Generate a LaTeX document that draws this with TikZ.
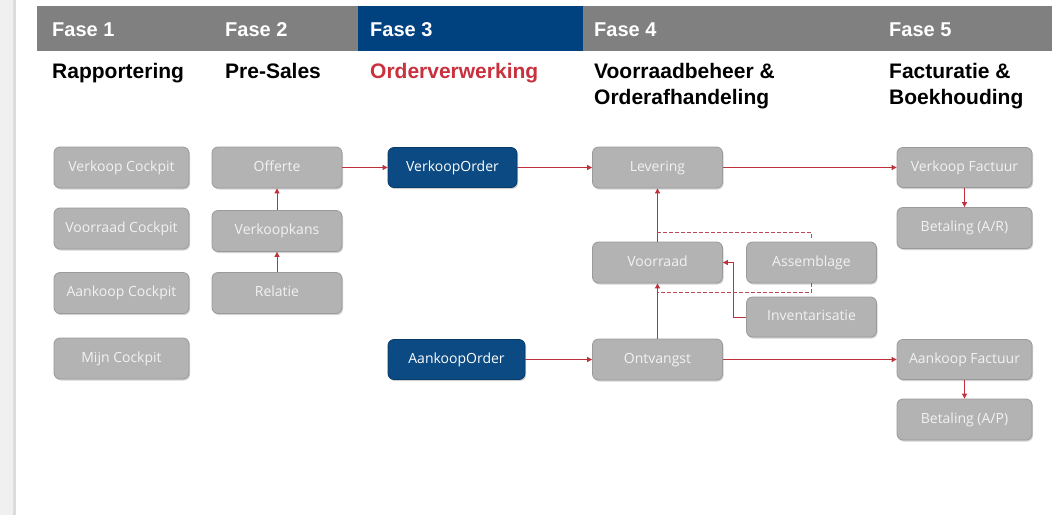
\documentclass[tikz,border=0pt]{standalone}
\usepackage{fontspec}
\setmainfont{Liberation Sans}
\newfontfamily\boxfont{Open Sans}
\usetikzlibrary{arrows.meta,shadows}
\definecolor{hdrgray}{HTML}{808080}
\definecolor{hdrblue}{HTML}{00417F}
\definecolor{boxgray}{HTML}{B3B3B3}
\definecolor{boxedge}{HTML}{9A9A9A}
\definecolor{boxblue}{HTML}{0B4A82}
\definecolor{boxblueedge}{HTML}{083A68}
\definecolor{boxtext}{HTML}{F2F2F2}
\definecolor{redtxt}{HTML}{C8313D}
\definecolor{arrred}{HTML}{C0303A}
\definecolor{dashred}{HTML}{B84A5A}
\definecolor{stripgray}{HTML}{F0F0F0}
\definecolor{stripline}{HTML}{DCDCDC}
\tikzset{
  gbox/.style={draw=boxedge, fill=boxgray, rounded corners=6pt, line width=0.8pt,
    text=boxtext, font=\boxfont\fontsize{14}{16}\selectfont, inner sep=0pt,
    text height=10.5pt, text depth=3pt,
    drop shadow={shadow xshift=1pt,shadow yshift=-1.5pt,opacity=0.35}},
  bbox/.style={gbox, draw=boxblueedge, fill=boxblue, text=white},
  fasetxt/.style={anchor=base west, inner sep=0pt, text=white, font=\bfseries\fontsize{20}{24}\selectfont},
  subtxt/.style={anchor=base west, inner sep=0pt, text=black, font=\bfseries\fontsize{21}{25}\selectfont},
  arr/.style={draw=arrred, line width=0.9pt, -{Triangle[length=5pt,width=5pt]}},
  dsh/.style={draw=dashred, line width=1.5pt, dash pattern=on 4pt off 2pt}
}
\begin{document}
\begin{tikzpicture}[x=1pt,y=-1pt]
\useasboundingbox (0,0) rectangle (1063,515);
\fill[white] (0,0) rectangle (1063,515);
\fill[stripgray] (0,0) rectangle (13,515);
\fill[stripline] (13,0) rectangle (16,515);
% header
\fill[hdrgray] (37,6) rectangle (1052,51);
\fill[hdrblue] (358,6) rectangle (583,51);
\node[fasetxt] (f1) at (52,36) {Fase 1};
\node[fasetxt] (f2) at (225,36) {Fase 2};
\node[fasetxt] (f3) at (370,36) {Fase 3};
\node[fasetxt] (f4) at (594,36) {Fase 4};
\node[fasetxt] (f5) at (889,36) {Fase 5};
\node[subtxt] (s1) at (52,78) {Rapportering};
\node[subtxt] (s2) at (225,78) {Pre-Sales};
\node[subtxt, text=redtxt] (s3) at (370,78) {Orderverwerking};
\node[subtxt] (s4a) at (594,78) {Voorraadbeheer \&};
\node[subtxt] (s4b) at (594,104) {Orderafhandeling};
\node[subtxt] (s5a) at (889,78) {Facturatie \&};
\node[subtxt] (s5b) at (889,104) {Boekhouding};
% column 1
\node[gbox, minimum width=135pt, minimum height=41pt] (vc) at (121.5,167.5) {Verkoop Cockpit};
\node[gbox, minimum width=135pt, minimum height=41pt] (rc) at (121.5,228.5) {Voorraad Cockpit};
\node[gbox, minimum width=135pt, minimum height=41pt] (ac) at (121.5,293) {Aankoop Cockpit};
\node[gbox, minimum width=135pt, minimum height=41pt] (mc) at (121.5,358.5) {Mijn Cockpit};
% column 2
\node[gbox, minimum width=130pt, minimum height=41pt] (off) at (277,167.5) {Offerte};
\node[gbox, minimum width=130pt, minimum height=41pt] (vk) at (277,231) {Verkoopkans};
\node[gbox, minimum width=130pt, minimum height=41pt] (rel) at (277,293) {Relatie};
% column 3
\node[bbox, minimum width=129pt, minimum height=40pt] (vo) at (452.5,167.5) {VerkoopOrder};
\node[bbox, minimum width=137pt, minimum height=40pt] (ao) at (456.5,359.5) {AankoopOrder};
% column 4
\node[gbox, minimum width=130pt, minimum height=41pt] (lev) at (657.5,167.5) {Levering};
\node[gbox, minimum width=130pt, minimum height=41pt] (vr) at (657.5,262.5) {Voorraad};
\node[gbox, minimum width=130pt, minimum height=41pt] (ont) at (657.5,359.5) {Ontvangst};
\node[gbox, minimum width=130pt, minimum height=41pt] (asm) at (811.5,262.5) {Assemblage};
\node[gbox, minimum width=130pt, minimum height=40pt] (inv) at (811.5,317) {Inventarisatie};
% column 5
\node[gbox, minimum width=135pt, minimum height=40pt] (vf) at (964.5,167.5) {Verkoop Factuur};
\node[gbox, minimum width=135pt, minimum height=41pt] (bar) at (964.5,228) {Betaling (A/R)};
\node[gbox, minimum width=135pt, minimum height=40pt] (af) at (964.5,359.5) {Aankoop Factuur};
\node[gbox, minimum width=135pt, minimum height=41pt] (bap) at (964.5,419.5) {Betaling (A/P)};
% connectors
\draw[arr] (rel) -- (vk);
\draw[arr] (vk) -- (off);
\draw[arr] (off) -- (vo);
\draw[arr] (vo) -- (lev);
\draw[arr] (lev) -- (vf);
\draw[arr] (vf) -- (bar);
\draw[arr] (ao.east) -- (ont.west);
\draw[arr] (ont) -- (af);
\draw[arr] (af) -- (bap);
\draw[arr] (vr) -- (lev);
\draw[arr] (ont) -- (vr);
\draw[arr] (inv.west) -- ++(-13,0) |- (vr.east);
\draw[dsh] ([yshift=4pt]asm.north) |- ([yshift=9pt]vr.north);
\draw[dsh] (asm.south) |- ([yshift=-9pt]vr.south);
\end{tikzpicture}
\end{document}
